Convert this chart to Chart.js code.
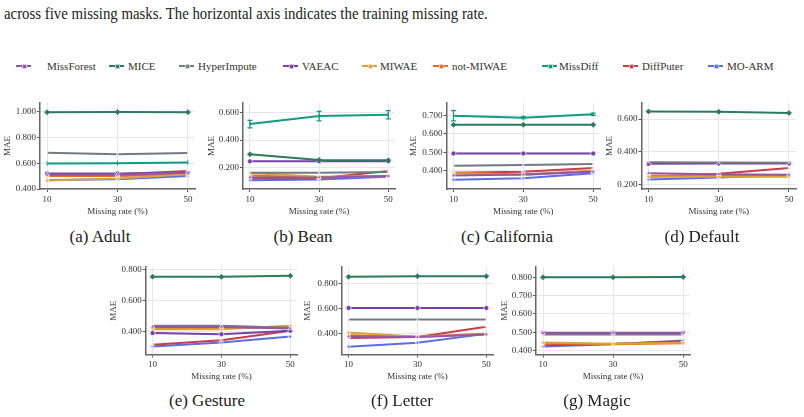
<!DOCTYPE html>
<html lang="en">
<head>
  <meta charset="UTF-8">
  <title>MAE vs training missing rate</title>
  <script src="https://cdn.jsdelivr.net/npm/chart.js"></script>
  <style>
    body {
      margin: 0;
      width: 804px;
      height: 417px;
      position: relative;
      overflow: hidden;
      background: #fff;
      font-family: "Liberation Serif", "DejaVu Serif", "Times New Roman", Times, "Noto Serif", serif;
      color: #222;
    }
    .intro {
      position: absolute;
      left: 4px;
      top: 4px;
      font-size: 16px;
      line-height: 20px;
      white-space: nowrap;
      transform-origin: 0 0;
    }
    .legend-text {
      position: absolute;
      top: 59px;
      font-size: 11px;
      line-height: 14px;
      white-space: nowrap;
      color: #333;
    }
    .legend-line {
      position: absolute;
      top: 65px;
      width: 15px;
      height: 2px;
    }
    .legend-mark {
      position: absolute;
      top: 64px;
      width: 3px;
      height: 3px;
      border: 0.5px solid rgba(255,255,255,0.7);
    }
    .panel { position: absolute; }
    .caption {
      position: absolute;
      font-size: 17px;
      line-height: 20px;
      white-space: nowrap;
      transform: translateX(-50%);
    }
  </style>
</head>
<body>
  <div class="intro" id="intro">across five missing masks. The horizontal axis indicates the training missing rate.</div>

  <script>
    // ---- data -------------------------------------------------------------
    const missingRates = [10, 30, 50];
    const methods = ['MissForest', 'MICE', 'HyperImpute', 'VAEAC', 'MIWAE',
                     'not-MIWAE', 'MissDiff', 'DiffPuter', 'MO-ARM'];

    // one row per method (same order as `methods`), one column per missing rate
    const adultMAE = [
      [0.510, 0.510, 0.525],
      [0.994, 0.995, 0.994],
      [0.681, 0.669, 0.678],
      [0.520, 0.520, 0.525],
      [0.465, 0.482, 0.515],
      [0.500, 0.500, 0.512],
      [0.598, 0.600, 0.606],
      [0.512, 0.515, 0.540],
      [0.470, 0.475, 0.500]
    ];
    const beanMAE = [
      [0.125, 0.125, 0.135],
      [0.296, 0.254, 0.252],
      [0.160, 0.160, 0.165],
      [0.244, 0.245, 0.245],
      [0.158, 0.130, 0.135],
      [0.140, 0.125, 0.135],
      [0.518, 0.577, 0.587],
      [0.120, 0.120, 0.172],
      [0.105, 0.110, 0.130]
    ];
    const californiaMAE = [
      [0.375, 0.380, 0.395],
      [0.648, 0.649, 0.648],
      [0.427, 0.432, 0.437],
      [0.494, 0.494, 0.494],
      [0.385, 0.378, 0.398],
      [0.390, 0.380, 0.400],
      [0.697, 0.687, 0.705],
      [0.390, 0.395, 0.415],
      [0.352, 0.360, 0.387]
    ];
    const defaultMAE = [
      [0.270, 0.265, 0.262],
      [0.646, 0.644, 0.637],
      [0.338, 0.336, 0.335],
      [0.328, 0.330, 0.330],
      [0.250, 0.250, 0.250],
      [0.255, 0.255, 0.255],
      null,
      [0.250, 0.268, 0.303],
      [0.233, 0.245, 0.260]
    ];
    const gestureMAE = [
      [0.430, 0.430, 0.420],
      [0.752, 0.751, 0.757],
      [0.438, 0.438, 0.425],
      [0.390, 0.383, 0.405],
      [0.415, 0.415, 0.437],
      [0.420, 0.420, 0.433],
      null,
      [0.315, 0.345, 0.405],
      [0.305, 0.330, 0.368]
    ];
    const letterMAE = [
      [0.380, 0.375, 0.395],
      [0.851, 0.855, 0.855],
      [0.513, 0.513, 0.513],
      [0.605, 0.605, 0.605],
      [0.410, 0.378, 0.395],
      [0.390, 0.380, 0.400],
      null,
      [0.368, 0.375, 0.457],
      [0.298, 0.330, 0.400]
    ];
    const magicMAE = [
      [0.495, 0.495, 0.495],
      [0.800, 0.800, 0.802],
      [0.488, 0.488, 0.488],
      [0.497, 0.497, 0.497],
      [0.445, 0.438, 0.443],
      [0.440, 0.435, 0.440],
      null,
      [0.430, 0.437, 0.450],
      [0.423, 0.435, 0.455]
    ];

    // MissDiff spread (half height of the error bars)
    const beanMissDiffErr = [0.028, 0.035, 0.030];
    const californiaMissDiffErr = [0.028, 0.006, 0.006];

    // y tick labels
    const adultTicks = [0.4, 0.6, 0.8, 1.0];
    const beanTicks = [0.2, 0.4, 0.6];
    const californiaTicks = [0.4, 0.5, 0.6, 0.7];
    const defaultTicks = [0.2, 0.4, 0.6];
    const gestureTicks = [0.4, 0.6, 0.8];
    const letterTicks = [0.4, 0.6, 0.8];
    const magicTicks = [0.4, 0.5, 0.6, 0.7, 0.8];

    // ---- styles -----------------------------------------------------------
    const colors = ['#9458a8', '#2d7a5c', '#737a84', '#7442a6', '#d9a236',
                    '#ea6e1f', '#119c82', '#c63d4c', '#5a6fe2'];
    const markers = [['triangle', 0], ['rectRot', 0], ['crossRot', 0], ['circle', 0],
                     ['triangle', 180], ['triangle', 90], ['line', 90], ['cross', 0], ['triangle', -90]];
    const serif = '"Liberation Serif", "DejaVu Serif", "Times New Roman", Times, "Noto Serif", serif';
    const smallFont = { family: serif, size: 9 };

    // panel geometry (page px)
    const panels = [
      { cap: '(a) Adult', vals: adultMAE, ticks: adultTicks, range: [0.4, 1.067],
        left: 0, top: 98, w: 200, axis: 40, right: 195, titleX: 8, capX: 100, padTop: 4, padBottom: 3 },
      { cap: '(b) Bean', vals: beanMAE, ticks: beanTicks, range: [0.04, 0.675], err: beanMissDiffErr,
        left: 200, top: 98, w: 200, axis: 243, right: 398, titleX: 211.5, capX: 303, padTop: 4, padBottom: 3 },
      { cap: '(c) California', vals: californiaMAE, ticks: californiaTicks, range: [0.302, 0.767], err: californiaMissDiffErr,
        left: 400, top: 98, w: 205, axis: 446.5, right: 602, titleX: 414, capX: 507, padTop: 4, padBottom: 3 },
      { cap: '(d) Default', vals: defaultMAE, ticks: defaultTicks, range: [0.175, 0.699],
        left: 600, top: 98, w: 204, axis: 641.5, right: 796, titleX: 610, capX: 702, padTop: 4, padBottom: 3 },
      { cap: '(e) Gesture', vals: gestureMAE, ticks: gestureTicks, range: [0.253, 0.815],
        left: 100, top: 262, w: 202, axis: 145.7, right: 301, titleX: 114, capX: 207, padTop: 4.7, padBottom: 1.5 },
      { cap: '(f) Letter', vals: letterMAE, ticks: letterTicks, range: [0.237, 0.93],
        left: 300, top: 262, w: 198, axis: 341.7, right: 496, titleX: 308, capX: 402, padTop: 4.7, padBottom: 1.5 },
      { cap: '(g) Magic', vals: magicMAE, ticks: magicTicks, range: [0.379, 0.857],
        left: 497, top: 262, w: 198, axis: 536, right: 691, titleX: 505, capX: 597, padTop: 4.7, padBottom: 1.5 }
    ];
    const panelH = 122;
    const xAxisH = 28;

    // intro line is a condensed serif in the reference
    const intro = document.getElementById('intro');
    intro.style.transform = 'scaleX(' + (484 / intro.offsetWidth) + ')';

    // legend
    const swatchX = [16, 109, 179, 283, 362, 433, 542, 623, 708];
    const textX = [47, 128, 198, 302, 380, 452, 559, 642, 727];
    methods.forEach((m, i) => {
      const line = document.createElement('div');
      line.className = 'legend-line';
      line.style.left = swatchX[i] + 'px';
      line.style.background = colors[i];
      document.body.appendChild(line);
      const mark = document.createElement('div');
      mark.className = 'legend-mark';
      mark.style.left = (swatchX[i] + 6) + 'px';
      mark.style.background = colors[i];
      document.body.appendChild(mark);
      const t = document.createElement('div');
      t.className = 'legend-text';
      t.style.left = textX[i] + 'px';
      t.textContent = m;
      document.body.appendChild(t);
    });

    // error bars for MissDiff
    const errorBars = {
      id: 'errorBars',
      afterDatasetsDraw(chart) {
        const ctx = chart.ctx;
        const xs = chart.scales.x, ys = chart.scales.y;
        chart.data.datasets.forEach(ds => {
          if (!ds.errors) return;
          ds.data.forEach((pt, j) => {
            const e = ds.errors[j];
            if (!e) return;
            const x = xs.getPixelForValue(pt.x);
            const y1 = ys.getPixelForValue(pt.y - e);
            const y2 = ys.getPixelForValue(pt.y + e);
            ctx.save();
            ctx.strokeStyle = ds.borderColor;
            ctx.lineWidth = 1.2;
            ctx.beginPath();
            ctx.moveTo(x, y1); ctx.lineTo(x, y2);
            ctx.moveTo(x - 2.5, y1); ctx.lineTo(x + 2.5, y1);
            ctx.moveTo(x - 2.5, y2); ctx.lineTo(x + 2.5, y2);
            ctx.stroke();
            ctx.restore();
          });
        });
      }
    };

    panels.forEach(p => {
      const box = document.createElement('div');
      box.className = 'panel';
      box.style.left = p.left + 'px';
      box.style.top = p.top + 'px';
      const canvas = document.createElement('canvas');
      canvas.width = p.w;
      canvas.height = panelH;
      canvas.style.width = p.w + 'px';
      canvas.style.height = panelH + 'px';
      box.appendChild(canvas);
      document.body.appendChild(box);

      const cap = document.createElement('div');
      cap.className = 'caption';
      cap.style.left = p.capX + 'px';
      cap.style.top = (p.top + panelH + 7) + 'px';
      cap.textContent = p.cap;
      document.body.appendChild(cap);

      const padLeft = p.titleX - p.left - 5.5;
      const datasets = methods.map((m, i) => {
        const v = p.vals[i];
        const lineMarker = markers[i][0] === 'line' || i === 1;
        return {
          label: m,
          data: v ? missingRates.map((r, j) => ({ x: r, y: v[j] })) : [],
          borderColor: colors[i],
          backgroundColor: colors[i],
          borderWidth: 2,
          pointStyle: markers[i][0],
          rotation: markers[i][1],
          pointRadius: 2.5,
          pointBorderWidth: 0.8,
          pointBorderColor: lineMarker ? colors[i] : 'rgba(255,255,255,0.9)',
          pointBackgroundColor: colors[i],
          errors: (m === 'MissDiff' && p.err) ? p.err : null
        };
      });

      new Chart(canvas, {
        type: 'line',
        data: { datasets },
        plugins: [errorBars],
        options: {
          responsive: false,
          animation: false,
          layout: { padding: { left: padLeft, top: p.padTop, right: p.left + p.w - p.right, bottom: p.padBottom } },
          plugins: { legend: { display: false }, tooltip: { enabled: false } },
          scales: {
            x: {
              type: 'linear',
              min: 8,
              max: 52,
              afterBuildTicks: s => { s.ticks = missingRates.map(v => ({ value: v })); },
              afterFit: s => { s.height = xAxisH; s.paddingLeft = 0; s.paddingRight = 0; },
              grid: { color: '#e6e6ec', tickLength: 3, tickColor: '#555' },
              border: { color: '#666', width: 1.5 },
              ticks: { font: smallFont, color: '#333', padding: 2, maxRotation: 0 },
              title: { display: true, text: 'Missing rate (%)', font: smallFont, color: '#333',
                       padding: { top: 0, bottom: 0 } }
            },
            y: {
              min: p.range[0],
              max: p.range[1],
              afterBuildTicks: s => { s.ticks = p.ticks.map(v => ({ value: v })); },
              afterFit: s => { s.width = p.axis - p.left - padLeft; s.paddingTop = 0; s.paddingBottom = 0; },
              grid: { color: '#e6e6ec', tickLength: 3, tickColor: '#555' },
              border: { color: '#666', width: 1.5 },
              ticks: { font: smallFont, color: '#333', padding: 1, callback: v => Number(v).toFixed(3) },
              title: { display: true, text: 'MAE', font: smallFont, color: '#333',
                       padding: { top: 0, bottom: 0 } }
            }
          }
        }
      });
    });
  </script>
</body>
</html>
